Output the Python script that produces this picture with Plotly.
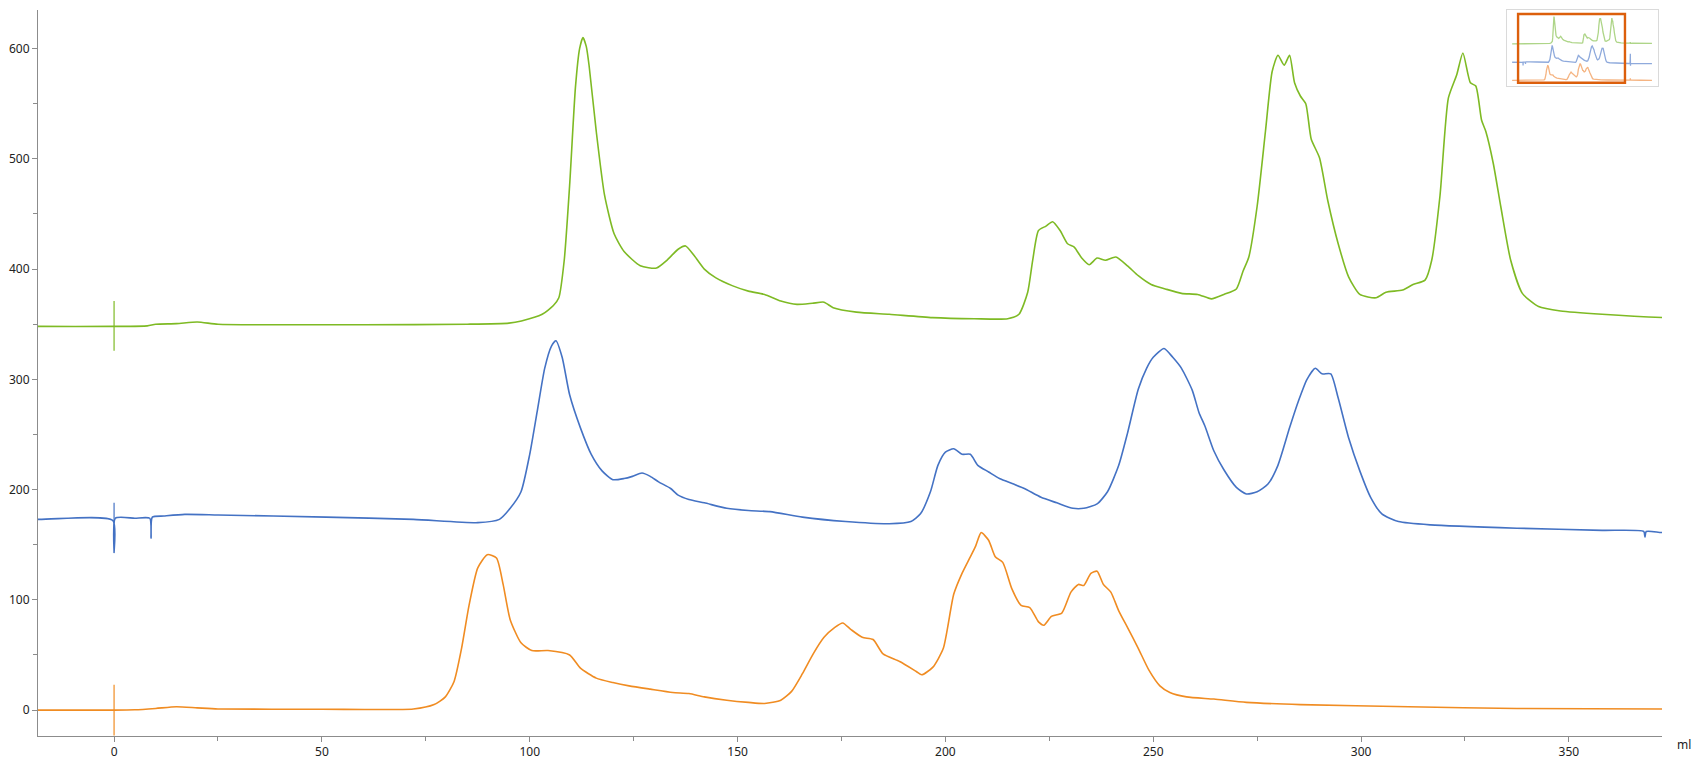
import plotly.graph_objects as go

# ---------------- data ----------------
green_x = [-40, -18.2, 0, 8, 10, 15, 20, 25, 40, 60, 85, 95, 98, 103, 105.7, 107, 108.3, 109.6, 111, 112, 112.8,
           113.6, 114.3, 116, 118, 120.3, 122.7, 126.6, 130.5, 133, 135.7, 137.5, 139.6, 142, 144.8, 148.7, 152.6,
           156.5, 160.4, 164.3, 168, 170.8, 173, 178.6, 186.5, 196.9, 207, 215, 217.7, 219.8, 221, 222.4,
           224.2, 225.8, 227.6, 229.4, 231, 232.8, 234.6, 236.5, 238.5, 241, 243.8, 246.4, 249.5, 252.9,
           256.8, 260.7, 264, 267, 270, 271.6, 273, 275, 277, 278.6, 280, 281.5, 282.8, 284, 285.4, 286.7,
           288, 290, 292, 294.5, 297, 299.7, 303.6, 306, 310, 312.5, 315.4, 317, 319, 321, 323, 324.5,
           326.3, 327.6, 329, 330, 331.8, 333.6, 336, 338.8, 342.7, 348, 358, 372.6, 385, 391, 392, 393,
           400, 430, 471]
green_y = [348, 348, 348, 348.5, 350, 350.5, 352, 350, 349.5, 349.5, 350, 351, 353, 359, 367, 374, 408, 476, 565, 600, 610,
           602, 584, 525, 467, 432, 416, 403, 401, 408, 418, 421, 412, 400, 392, 385, 380,
           377, 371, 368, 369, 370, 365, 361, 359, 356, 355, 355, 359, 379, 408, 435,
           439, 443, 435, 423, 420, 410, 404, 410, 408, 411, 403, 394, 386, 382,
           378, 377, 373, 377, 382, 398, 411, 457, 525, 579, 594, 585, 594, 569, 557, 550,
           518, 501, 462, 423, 393, 377, 374, 379, 381, 386, 390, 408, 467, 555, 576, 596,
           569, 566, 535, 525, 496, 457, 408, 378, 366, 362, 359, 356, 355, 355, 366, 354,
           355, 354, 354]

blue_x = [-40, -18.2, -0.3, 0, 0.3, 5, 8.6, 8.9, 9.2, 12, 17, 25, 51, 72, 87.5, 92.7, 95.3, 97.9, 100, 101.8,
          103.6, 105.2, 106.3, 107.8, 109.6, 112.2, 114.8, 117.4, 120, 122.7, 124.7, 127, 129, 131, 133.9,
          135.7, 138.3, 142, 147.4, 152.6, 157.8, 165.6, 176, 186.5, 191.7, 194, 196.4, 198.2, 200, 202,
          204, 206, 207.8, 210.4, 213, 216.4, 219, 223, 226.8, 230.7, 233.3, 236.5, 239, 241.7, 243.8,
          246.4, 248.4, 250, 252.6, 254.7, 256.8, 259.4, 261, 262.5, 264.6, 267, 270, 272.4, 275, 277.6,
          280, 282.8, 285, 287, 289, 290.6, 292.7, 294.5, 297, 299.7, 302.3, 305, 309, 316.7, 337.5, 358,
          368, 368.3, 368.6, 372.6, 385, 391, 392, 392.5, 393, 430, 471]
blue_y = [173, 173, 172, 143, 174, 174, 174, 156, 175, 176, 177.5, 177, 175, 173, 170, 173, 183, 198, 232, 271,
          310, 330, 335, 320, 286, 256, 232, 217, 209, 210, 212, 215, 212, 207, 201,
          195, 191, 188, 183, 181, 180, 175, 171, 169, 171, 178, 198, 222, 234, 237,
          232, 232, 222, 216, 210, 205, 201, 193, 188, 183, 183, 187, 198, 222, 251,
          291, 310, 320, 328, 320, 310, 290, 270, 257, 235, 218, 202, 196, 198, 205,
          222, 256, 281, 300, 310, 305, 305, 283, 247, 217, 193, 178, 171, 168, 165, 163,
          162, 157, 162, 161, 161, 161, 255, 140, 161, 160, 159]

orange_x = [-40, -18.2, 0, 5, 10, 15, 20, 25, 50, 72, 77, 79.7, 81.8, 83.6, 85.4, 87.5, 89.8, 92, 93.6,
            95.3, 97.9, 100.5, 104.4, 109.6, 112.2, 116, 120, 123.9, 129, 134.4, 138.3, 142, 147.4, 152.6,
            156.5, 160.4, 163, 165.6, 168.2, 170.8, 173.4, 175.3, 177.3, 180, 182.6, 185, 189, 193, 194.3,
            197, 199.5, 202, 204, 206, 207.3, 208.6, 210.4, 212, 213.8, 216, 218.2, 220.3, 222.4, 223.7,
            225.5, 228, 230.2, 232, 233.3, 235, 236.5, 238, 239.8, 241.7, 243.8, 246.4, 249, 251.6, 254,
            258, 264.6, 272.4, 285.4, 311.5, 337.5, 372.6, 385, 391, 392, 393, 430, 471]
orange_y = [0, 0, 0, 0.3, 1.5, 3, 2, 1, 0.8, 1, 5, 12, 26, 56, 95, 129, 141, 138, 114,
            82, 61, 54, 54, 50, 38, 29, 25, 22, 19, 16, 15, 12, 9, 7,
            6, 9, 17, 33, 51, 66, 75, 79, 73, 66, 64, 51, 44, 35, 32,
            39, 56, 105, 124, 139, 149, 161, 154, 139, 134, 110, 95, 93, 80, 77,
            85, 88, 107, 114, 113, 124, 126, 114, 107, 90, 75, 56, 36, 22, 16,
            12, 10, 7, 5, 3, 1.5, 1, 1, 1, 20, 1, 0.5, 0]

# injection marks at x = 0 (vertical ticks on each trace)
inject_x = 0
green_mark = [326, 371]
blue_mark = [151, 188]
orange_mark = [-23, 23]

x_ticks = [0, 50, 100, 150, 200, 250, 300, 350]
y_ticks = [0, 100, 200, 300, 400, 500, 600]
x_view = [-18.3, 372.4]
y_view = [-23.5, 635]

GREEN, BLUE, ORANGE = "#7EBA24", "#4472C4", "#F08C22"
GREEN_L, BLUE_L, ORANGE_L = "#AED588", "#8FAADC", "#F5B482"

fig = go.Figure()

series = [(green_x, green_y, GREEN, GREEN_L, green_mark),
          (blue_x, blue_y, BLUE, BLUE_L, blue_mark),
          (orange_x, orange_y, ORANGE, ORANGE_L, orange_mark)]

for xs, ys, col, coll, mark in series:
    fig.add_trace(go.Scatter(x=xs, y=ys, mode="lines",
                             line=dict(color=col, width=1.6, shape="spline", smoothing=0.6),
                             hoverinfo="skip", showlegend=False))
    fig.add_trace(go.Scatter(x=[inject_x, inject_x], y=mark, mode="lines",
                             line=dict(color=col, width=1.2),
                             hoverinfo="skip", showlegend=False))
    # overview inset
    fig.add_trace(go.Scatter(x=xs, y=ys, mode="lines", xaxis="x2", yaxis="y2",
                             line=dict(color=coll, width=1.3),
                             hoverinfo="skip", showlegend=False))

axis_common = dict(showline=True, linecolor="#8C8C8C", linewidth=1, showgrid=False, zeroline=False,
                   ticks="outside", ticklen=5, tickcolor="#8C8C8C", tickwidth=1,
                   tickfont=dict(family="Noto Sans", size=12, color="#222222"))

fig.update_layout(
    width=1699, height=769,
    margin=dict(l=37, r=37, t=9, b=31),
    paper_bgcolor="white", plot_bgcolor="white",
    xaxis=dict(range=x_view, tickvals=x_ticks, domain=[0, 1],
               minor=dict(dtick=25, ticks="outside", ticklen=4, tickcolor="#8C8C8C"),
               **axis_common),
    yaxis=dict(range=y_view, tickvals=y_ticks, domain=[0, 1],
               minor=dict(dtick=50, ticks="outside", ticklen=4, tickcolor="#8C8C8C"),
               **axis_common),
    xaxis2=dict(domain=[0.9046, 0.9975], anchor="y2", range=[-58.5, 492.9],
                showticklabels=False, ticks="", showgrid=False, zeroline=False,
                showline=True, mirror=True, linecolor="#DADADA", linewidth=1),
    yaxis2=dict(domain=[0.8957, 1.0], anchor="x2", range=[-51.7, 672.6],
                showticklabels=False, ticks="", showgrid=False, zeroline=False,
                showline=True, mirror=True, linecolor="#DADADA", linewidth=1),
    annotations=[dict(text="ml", xref="paper", yref="paper", x=1.0135, y=-0.012,
                      showarrow=False, xanchor="center", yanchor="middle",
                      font=dict(family="Noto Sans", size=12, color="#222222"))],
    shapes=[dict(type="rect", xref="x2", yref="y2",
                 x0=x_view[0], x1=x_view[1], y0=y_view[0], y1=y_view[1],
                 line=dict(color="#DC5F0C", width=2.4), fillcolor="rgba(0,0,0,0)")],
)

fig.write_html("out.html", config={"displayModeBar": False},
               post_script="document.body.style.margin='0';document.body.style.overflow='hidden';")
